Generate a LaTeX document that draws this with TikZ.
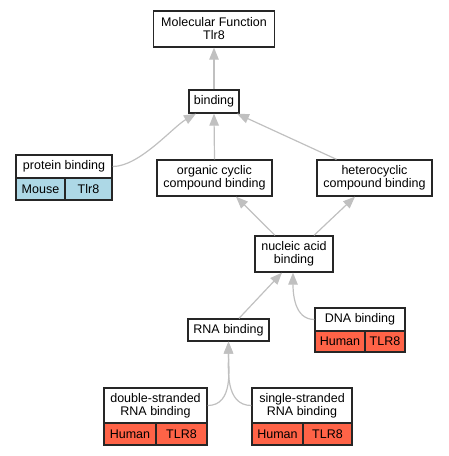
\documentclass[tikz,border=0pt]{standalone}
\usepackage{fontspec}
\setmainfont{Liberation Sans}
\usetikzlibrary{arrows.meta}
\definecolor{edgegray}{RGB}{192,192,192}
\definecolor{mouseblue}{RGB}{173,216,230}
\definecolor{humanred}{RGB}{255,99,71}

\begin{document}
\begin{tikzpicture}[x=1pt,y=-1pt,
  every node/.style={font=\fontsize{12.5}{13}\selectfont,align=center,inner sep=0pt},
  term/.style={draw=black!85,line width=1.3pt,fill=white},
  mouse/.style={term,fill=mouseblue},
  human/.style={term,fill=humanred},
  isa/.style={draw=edgegray,line width=1.2pt,-{Triangle[length=12pt,width=9.5pt,fill=edgegray]}}]
  \useasboundingbox (0,0) rectangle (448,456);
  % plain terms
  \node[term,minimum width=121,minimum height=36] (mf) at (214,29) {Molecular Function\\Tlr8};
  \node[term,minimum width=50,minimum height=23] (binding) at (214,101.5) {binding};
  \node[term,minimum width=115,minimum height=36] (organic) at (214.5,178) {organic cyclic\\compound binding};
  \node[term,minimum width=115,minimum height=36] (hetero) at (374.5,178) {heterocyclic\\compound binding};
  \node[term,minimum width=78,minimum height=36] (nucleic) at (294,254) {nucleic acid\\binding};
  \node[term,minimum width=81,minimum height=22] (rna) at (228.5,330) {RNA binding};
  % annotated terms
  \node[term,minimum width=96,minimum height=23] (pbTop) at (64,166.5) {protein binding};
  \node[mouse,minimum width=49,minimum height=22] (pbSpecies) at (40.5,189) {Mouse};
  \node[mouse,minimum width=47,minimum height=22] (pbGene) at (88.5,189) {Tlr8};
  \node[term,minimum width=90,minimum height=23] (dnaTop) at (360,319.5) {DNA binding};
  \node[human,minimum width=50,minimum height=21] (dnaSpecies) at (340,341.5) {Human};
  \node[human,minimum width=40,minimum height=21] (dnaGene) at (385,341.5) {TLR8};
  \node[term,minimum width=103,minimum height=35] (dsTop) at (155.5,405.5) {double-stranded\\RNA binding};
  \node[human,minimum width=52,minimum height=22] (dsSpecies) at (130,434) {Human};
  \node[human,minimum width=51,minimum height=22] (dsGene) at (181.5,434) {TLR8};
  \node[term,minimum width=100,minimum height=35] (ssTop) at (302,405.5) {single-stranded\\RNA binding};
  \node[human,minimum width=51,minimum height=22] (ssSpecies) at (277.5,434) {Human};
  \node[human,minimum width=49,minimum height=22] (ssGene) at (327.5,434) {TLR8};
  % is_a edges
  \draw[isa] (binding.north) -- (mf.south);
  \draw[isa] (organic.north) -- (binding.south);
  \draw[isa] ([xshift=-38]hetero.north) -- ([xshift=23]binding.south);
  \draw[isa] (pbTop.east) to[out=0,in=210,looseness=0.7] ([xshift=-18]binding.south);
  \draw[isa] ([xshift=-19]nucleic.north) -- ([xshift=21.5]organic.south);
  \draw[isa] ([xshift=20]nucleic.north) -- ([xshift=-19.5]hetero.south);
  \draw[isa] ([xshift=10.5]rna.north) -- ([xshift=-12]nucleic.south);
  \draw[isa] (dnaTop.west) to[out=180,in=-90] ([xshift=-1]nucleic.south);
  \draw[isa] (dsTop.east) to[out=0,in=-90] (rna.south);
  \draw[isa] (ssTop.west) to[out=180,in=-90] (rna.south);
\end{tikzpicture}
\end{document}
